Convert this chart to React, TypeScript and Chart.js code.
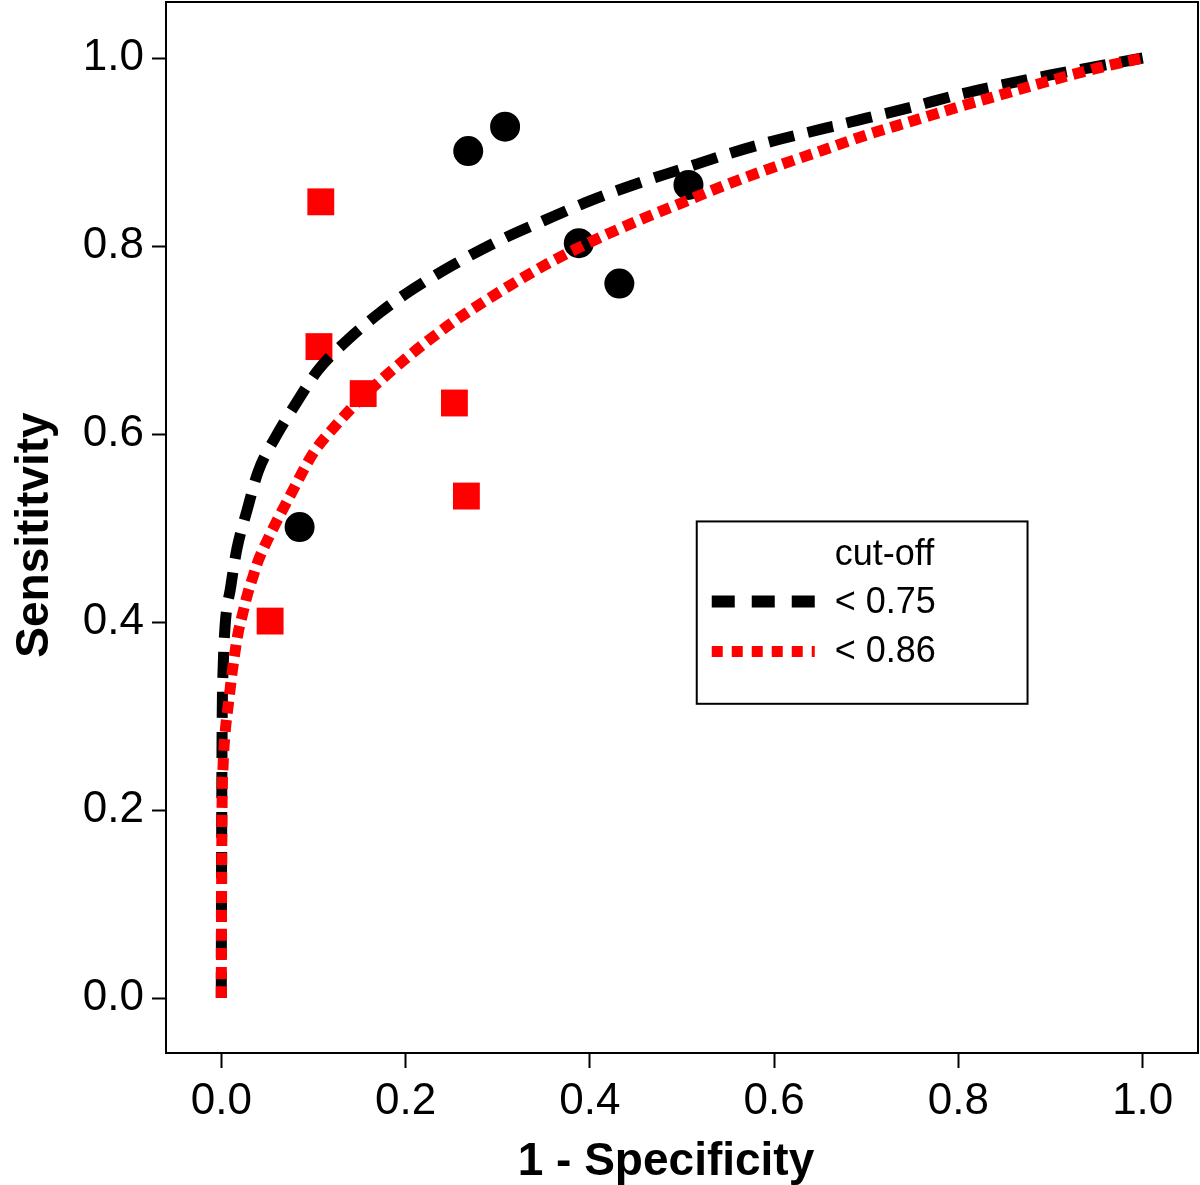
import React, { useEffect, useRef } from "react";
import { Chart, registerables } from "chart.js";

Chart.register(...registerables);

// ---- data ----
const xTicks = [0, 0.2, 0.4, 0.6, 0.8, 1.0];
const yTicks = [0, 0.2, 0.4, 0.6, 0.8, 1.0];

const xTitle = "1 - Specificity";
const yTitle = "Sensititvity";
const legendTitle = "cut-off";
const legendLabels = ["< 0.75", "< 0.86"];

// study points, cut-off < 0.75 (black circles)
const studyFprA = [0.085, 0.268, 0.308, 0.388, 0.432, 0.507];
const studySensA = [0.501, 0.901, 0.927, 0.803, 0.76, 0.865];
// study points, cut-off < 0.86 (red squares)
const studyFprB = [0.053, 0.108, 0.106, 0.154, 0.253, 0.266];
const studySensB = [0.401, 0.847, 0.693, 0.643, 0.633, 0.534];

// SROC curve, cut-off < 0.75
const curveFprA = [0, 0.0002, 0.0005, 0.001, 0.002, 0.004, 0.01, 0.017, 0.028, 0.04, 0.059, 0.082, 0.105, 0.137, 0.172, 0.2, 0.25, 0.3, 0.35, 0.4, 0.45, 0.5, 0.55, 0.6, 0.65, 0.7, 0.75, 0.8, 0.85, 0.9, 0.95, 1.0];
const curveSensA = [0.0, 0.1, 0.2, 0.3, 0.35, 0.394, 0.436, 0.478, 0.519, 0.56, 0.597, 0.634, 0.668, 0.7, 0.729, 0.749, 0.779, 0.805, 0.827, 0.848, 0.866, 0.882, 0.898, 0.912, 0.924, 0.936, 0.948, 0.961, 0.972, 0.982, 0.991, 1.0];

// SROC curve, cut-off < 0.86
const curveFprB = [0, 0.0003, 0.0008, 0.002, 0.004, 0.008, 0.012, 0.018, 0.023, 0.028, 0.035, 0.04, 0.05, 0.06, 0.075, 0.1, 0.125, 0.15, 0.2, 0.25, 0.3, 0.35, 0.4, 0.45, 0.5, 0.55, 0.6, 0.65, 0.7, 0.75, 0.8, 0.85, 0.9, 0.95, 1.0];
const curveSensB = [0.0, 0.1, 0.2, 0.248, 0.28, 0.315, 0.348, 0.387, 0.408, 0.428, 0.45, 0.465, 0.487, 0.507, 0.535, 0.58, 0.61, 0.636, 0.68, 0.718, 0.75, 0.779, 0.804, 0.826, 0.846, 0.866, 0.884, 0.901, 0.918, 0.933, 0.948, 0.962, 0.976, 0.989, 1.0];

const FONT = "'Liberation Sans', Arial, Helvetica, sans-serif";

const toXY = (xs: number[], ys: number[]) => xs.map((x, i) => ({ x, y: ys[i] }));

const zeroPad = (s: any) => {
  s.paddingLeft = 0;
  s.paddingRight = 0;
  s.paddingTop = 0;
  s.paddingBottom = 0;
};

const frameAndLegend = {
  id: "frameAndLegend",
  afterDraw(chart: any) {
    const { ctx, chartArea: a, scales } = chart;
    const xs = scales.x;
    const ys = scales.y;
    ctx.save();
    // plot frame
    ctx.strokeStyle = "#000";
    ctx.lineWidth = 2;
    ctx.setLineDash([]);
    ctx.strokeRect(a.left, a.top, a.right - a.left, a.bottom - a.top);

    // axis titles
    ctx.fillStyle = "#000";
    ctx.font = `bold 46px ${FONT}`;
    ctx.textAlign = "center";
    ctx.textBaseline = "alphabetic";
    ctx.fillText(xTitle, 666, 1175);
    ctx.save();
    ctx.translate(48, 535);
    ctx.rotate(-Math.PI / 2);
    ctx.fillText(yTitle, 0, 0);
    ctx.restore();

    // legend box
    const lx0 = xs.getPixelForValue(0.516);
    const lx1 = xs.getPixelForValue(0.875);
    const ly0 = ys.getPixelForValue(0.507);
    const ly1 = ys.getPixelForValue(0.313);
    ctx.fillStyle = "#fff";
    ctx.fillRect(lx0, ly0, lx1 - lx0, ly1 - ly0);
    ctx.strokeStyle = "#000";
    ctx.lineWidth = 2;
    ctx.strokeRect(lx0, ly0, lx1 - lx0, ly1 - ly0);

    ctx.fillStyle = "#000";
    ctx.font = `36px ${FONT}`;
    ctx.textAlign = "left";
    ctx.textBaseline = "alphabetic";
    const tx = lx0 + 138;
    ctx.fillText(legendTitle, tx, ly0 + 44);
    ctx.fillText(legendLabels[0], tx, ly0 + 92);
    ctx.fillText(legendLabels[1], tx, ly0 + 141);

    ctx.lineCap = "butt";
    ctx.lineWidth = 12;
    ctx.strokeStyle = "#000";
    ctx.setLineDash([23, 17]);
    ctx.beginPath();
    ctx.moveTo(lx0 + 15, ly0 + 80);
    ctx.lineTo(lx0 + 118, ly0 + 80);
    ctx.stroke();

    ctx.strokeStyle = "#ff0000";
    ctx.lineWidth = 11;
    ctx.setLineDash([11, 9]);
    ctx.beginPath();
    ctx.moveTo(lx0 + 15, ly0 + 130);
    ctx.lineTo(lx0 + 118, ly0 + 130);
    ctx.stroke();
    ctx.restore();
  },
};

export default function App() {
  const ref = useRef<HTMLCanvasElement | null>(null);
  useEffect(() => {
    if (!ref.current) return;
    const chart = new Chart(ref.current, {
      type: "scatter",
      data: {
        datasets: [
          {
            type: "line",
            label: legendLabels[1],
            data: toXY(curveFprB, curveSensB),
            borderColor: "#ff0000",
            borderWidth: 11,
            borderDash: [12, 7],
            borderCapStyle: "butt",
            pointRadius: 0,
            fill: false,
            cubicInterpolationMode: "monotone",
          } as any,
          {
            type: "line",
            label: legendLabels[0],
            data: toXY(curveFprA, curveSensA),
            borderColor: "#000000",
            borderWidth: 11,
            borderDash: [26, 14],
            borderCapStyle: "butt",
            pointRadius: 0,
            fill: false,
            cubicInterpolationMode: "monotone",
          } as any,
          {
            type: "scatter",
            data: toXY(studyFprA, studySensA),
            pointStyle: "circle",
            pointRadius: 15,
            backgroundColor: "#000000",
            borderWidth: 0,
          } as any,
          {
            type: "scatter",
            data: toXY(studyFprB, studySensB),
            pointStyle: "rect",
            pointRadius: 19,
            backgroundColor: "#ff0000",
            borderWidth: 0,
          } as any,
        ],
      },
      options: {
        animation: false,
        responsive: false,
        layout: { autoPadding: false, padding: { top: 2, right: 2, left: 0, bottom: 0 } },
        plugins: { legend: { display: false }, tooltip: { enabled: false } },
        scales: {
          x: {
            type: "linear",
            min: -0.06,
            max: 1.06,
            afterBuildTicks: (s: any) => {
              s.ticks = xTicks.map((v) => ({ value: v }));
            },
            afterFit: (s: any) => {
              s.height = 132;
              zeroPad(s);
            },
            ticks: {
              callback: (v: any) => Number(v).toFixed(1),
              font: { family: FONT, size: 44 },
              color: "#000",
              padding: 7,
              maxRotation: 0,
              autoSkip: false,
            },
            grid: {
              display: true,
              drawOnChartArea: false,
              drawTicks: true,
              tickLength: 15,
              tickColor: "#000",
              tickWidth: 2,
            },
            border: { display: false },
          },
          y: {
            type: "linear",
            min: -0.0585,
            max: 1.0596,
            afterBuildTicks: (s: any) => {
              s.ticks = yTicks.map((v) => ({ value: v }));
            },
            afterFit: (s: any) => {
              s.width = 166;
              zeroPad(s);
            },
            ticks: {
              callback: (v: any) => Number(v).toFixed(1),
              font: { family: FONT, size: 44 },
              color: "#000",
              padding: 8,
              autoSkip: false,
            },
            grid: {
              display: true,
              drawOnChartArea: false,
              drawTicks: true,
              tickLength: 14,
              tickColor: "#000",
              tickWidth: 2,
            },
            border: { display: false },
          },
        },
      } as any,
      plugins: [frameAndLegend],
    });
    return () => chart.destroy();
  }, []);

  return (
    <div style={{ position: "absolute", left: 0, top: 0, width: 1200, height: 1185, background: "#fff" }}>
      <canvas ref={ref} width={1200} height={1185} style={{ display: "block", width: 1200, height: 1185 }} />
    </div>
  );
}
